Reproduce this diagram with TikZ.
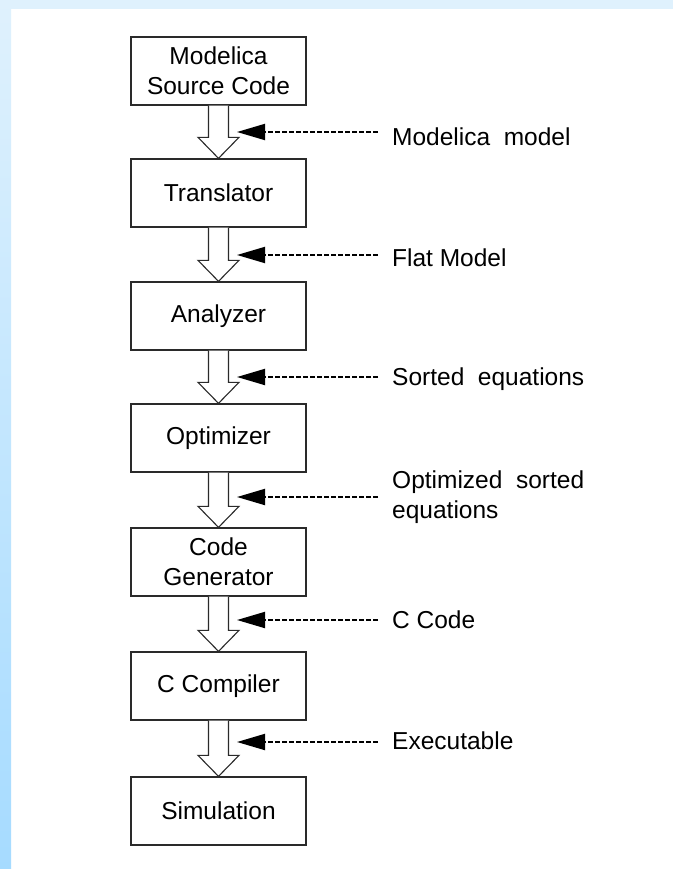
\documentclass[tikz,border=0pt]{standalone}
\usepackage{fontspec}
\setmainfont{Liberation Sans}
\newfontfamily\widefont[WordSpace=2]{Liberation Sans}
\usetikzlibrary{arrows.meta,calc}
\definecolor{topblue}{HTML}{DFF1FD}
\definecolor{botblue}{HTML}{A6DBFF}
\definecolor{edge}{HTML}{2A2A2A}
\newcommand\hollowarrow[2]{%
  \draw[hollow] ($(#1.south)+(-10,0)$) -- ($(#2.north)+(-10,-21)$) -- ($(#2.north)+(-20.5,-21)$) -- (#2.north)
    -- ($(#2.north)+(20.5,-21)$) -- ($(#2.north)+(10,-21)$) -- ($(#1.south)+(10,0)$);}
\begin{document}
\begin{tikzpicture}[x=1pt,y=-1pt,
  box/.style={draw=edge,line width=1.3pt,minimum width=175pt,minimum height=68pt,inner sep=0pt,align=center,
    font=\fontsize{24.5}{30}\selectfont},
  hollow/.style={draw=edge,line width=1.1pt,fill=white,line join=miter},
  lbl/.style={anchor=west,inner sep=0pt,align=left,font=\fontsize{24.5}{30}\selectfont},
  widelbl/.style={lbl,font=\widefont\fontsize{24.5}{30}\selectfont},
  feed/.style={draw=black,line width=1.9pt,dash pattern=on 5pt off 2pt,shorten <=14pt,
    -{Triangle[length=28pt,width=16pt]}}]
\useasboundingbox (0,0) rectangle (673,869);
\fill[white] (0,0) rectangle (673,869);
\shade[top color=topblue,bottom color=botblue] (0,0) rectangle (11,869);
\fill[topblue] (0,0) rectangle (673,9);

\node[box] (b1) at (218.5,71) {Modelica\\Source Code};
\node[box] (b2) at (218.5,193) {Translator};
\node[box] (b3) at (218.5,316) {Analyzer};
\node[box] (b4) at (218.5,438) {Optimizer};
\node[box] (b5) at (218.5,562) {Code\\Generator};
\node[box] (b6) at (218.5,686) {C Compiler};
\node[box] (b7) at (218.5,811) {Simulation};

\hollowarrow{b1}{b2}
\hollowarrow{b2}{b3}
\hollowarrow{b3}{b4}
\hollowarrow{b4}{b5}
\hollowarrow{b5}{b6}
\hollowarrow{b6}{b7}

\coordinate (t1) at (237,132);
\coordinate (t2) at (237,255);
\coordinate (t3) at (237,377);
\coordinate (t4) at (237,497);
\coordinate (t5) at (237,620);
\coordinate (t6) at (237,742);

\node[widelbl] (l1) at (392,137) {Modelica model};
\node[lbl] (l2) at (392,258) {Flat Model};
\node[widelbl] (l3) at (392,379) {Sorted equations};
\node[widelbl,anchor=north west] (l4) at (392,471) {Optimized sorted\\equations};
\node[lbl] (l5) at (392,620) {C Code};
\node[lbl] (l6) at (392,741) {Executable};

\draw[feed] (l1.west |- t1) -- (t1);
\draw[feed] (l2.west |- t2) -- (t2);
\draw[feed] (l3.west |- t3) -- (t3);
\draw[feed] (l4.north west |- t4) -- (t4);
\draw[feed] (l5.west |- t5) -- (t5);
\draw[feed] (l6.west |- t6) -- (t6);
\end{tikzpicture}
\end{document}
